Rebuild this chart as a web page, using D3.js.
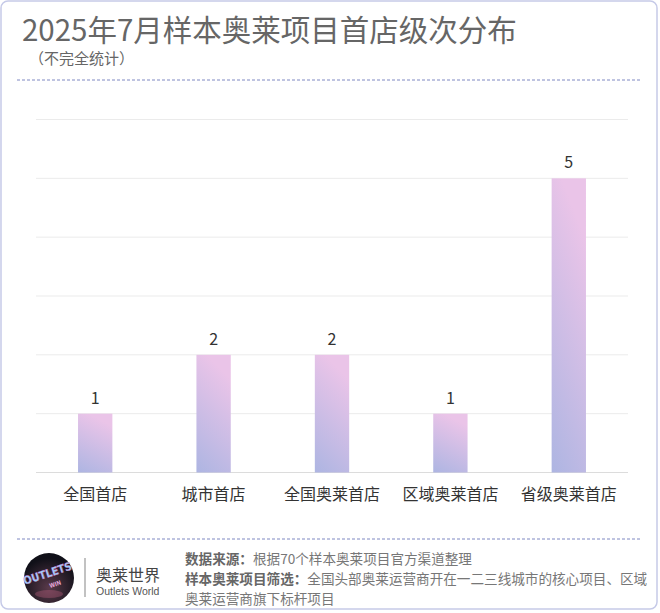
<!DOCTYPE html>
<html><head><meta charset="utf-8">
<script src="https://cdn.jsdelivr.net/npm/d3@7/dist/d3.min.js"></script>
<style>
html,body{margin:0;padding:0;background:#fff;}
svg{display:block;font-family:"Noto Sans CJK SC","Noto Sans",sans-serif;}
</style></head>
<body>
<svg id="c" width="660" height="613"></svg>
<script>
const categories = ["全国首店","城市首店","全国奥莱首店","区域奥莱首店","省级奥莱首店"];
const values = [1,2,2,1,5];
const yTicks = [0,1,2,3,4,5,6];
const titleText = "2025年7月样本奥莱项目首店级次分布";
const subtitleText = "（不完全统计）";
const sourceLabel = "数据来源：";
const sourceText = "根据70个样本奥莱项目官方渠道整理";
const filterLabel = "样本奥莱项目筛选：";
const filterLines = ["全国头部奥莱运营商开在一二三线城市的核心项目、区域","奥莱运营商旗下标杆项目"];

(function(){
const svg = d3.select("#c");
const defs = svg.append("defs");
const g1 = defs.append("linearGradient").attr("id","barGrad")
  .attr("x1","0.3").attr("y1","0").attr("x2","0").attr("y2","1");
g1.append("stop").attr("offset","0%").attr("stop-color","#eac4e8");
g1.append("stop").attr("offset","100%").attr("stop-color","#adb5e2");
const lg = defs.append("radialGradient").attr("id","logoGrad").attr("cx","0.5").attr("cy","0.7").attr("r","0.6");
lg.append("stop").attr("offset","0%").attr("stop-color","#5a3a4a");
lg.append("stop").attr("offset","100%").attr("stop-color","#101018");

// frame
svg.append("rect").attr("x",1).attr("y",1).attr("width",656).attr("height",608)
  .attr("rx",7).attr("fill","#fff").attr("stroke","#c6cae8").attr("stroke-width",1.5);

// title
svg.append("text").attr("x",22).attr("y",41).attr("font-size",29.5).attr("fill","#666")
  .text(titleText);
svg.append("text").attr("x",29).attr("y",64).attr("font-size",15).attr("fill","#666")
  .text(subtitleText);

// dashed lines
[80,539].forEach(yy=>{
  svg.append("line").attr("x1",17).attr("x2",640).attr("y1",yy).attr("y2",yy)
    .attr("stroke","#7f88c2").attr("stroke-width",1).attr("stroke-dasharray","3,2");
});

// chart
const pLeft=36, pRight=628, pTop=119.5, pBottom=472.5;
const x = d3.scaleBand().domain(categories).range([pLeft,pRight]).paddingInner(0.71).paddingOuter(0.355);
const y = d3.scaleLinear().domain([0,6]).range([pBottom,pTop]);

svg.append("g").selectAll("line").data(yTicks).join("line")
  .attr("x1",pLeft).attr("x2",pRight).attr("y1",d=>y(d)).attr("y2",d=>y(d))
  .attr("stroke",d=>d===0?"#dcdcdc":"#ebebeb").attr("stroke-width",1);

svg.append("g").selectAll("rect").data(values).join("rect")
  .attr("x",(d,i)=>x(categories[i])).attr("width",x.bandwidth())
  .attr("y",d=>y(d)).attr("height",d=>y(0)-y(d))
  .attr("fill","url(#barGrad)");

svg.append("g").selectAll("text").data(values).join("text")
  .attr("x",(d,i)=>x(categories[i])+x.bandwidth()/2).attr("y",d=>y(d)-10)
  .attr("text-anchor","middle").attr("font-size",16).attr("fill","#333")
  .text(d=>d);

const xAxis = d3.axisBottom(x).tickSize(0).tickPadding(0);
const ax = svg.append("g").attr("transform",`translate(0,${pBottom})`).call(xAxis);
ax.select(".domain").remove();
ax.selectAll("text").attr("font-size",16).attr("fill","#333")
  .attr("font-family","'Noto Sans CJK SC',sans-serif").attr("dy",0).attr("y",27);

// logo
const lgG = svg.append("g").attr("transform","translate(49,578)");
lgG.append("circle").attr("r",25).attr("fill","url(#logoGrad)");
lgG.append("text").attr("x",0).attr("y",-1).attr("text-anchor","middle")
  .attr("transform","rotate(-18)").attr("font-size",11).attr("font-weight","bold")
  .attr("font-family","'DejaVu Sans Condensed','DejaVu Sans',sans-serif")
  .attr("fill","#8fd6ff").attr("stroke","#e070c0").attr("stroke-width",0.4).text("OUTLETS");
lgG.append("text").attr("x",4).attr("y",10).attr("text-anchor","middle")
  .attr("transform","rotate(-18)").attr("font-size",6).attr("font-weight","bold")
  .attr("fill","#f0b0e0").text("WIN");
lgG.append("ellipse").attr("cx",0).attr("cy",16).attr("rx",14).attr("ry",4)
  .attr("fill","#c06080").attr("opacity",0.35);

svg.append("line").attr("x1",85).attr("x2",85).attr("y1",558).attr("y2",597)
  .attr("stroke","#999").attr("stroke-width",1.2);
svg.append("text").attr("x",96).attr("y",581).attr("font-size",16).attr("fill","#444").text("奥莱世界");
svg.append("text").attr("x",96).attr("y",595).attr("font-size",10.5).attr("fill","#555")
  .attr("font-family","'Liberation Sans Narrow','Liberation Sans',sans-serif").text("Outlets World");

// source text
const s1 = svg.append("text").attr("x",185).attr("y",564).attr("font-size",13.6).attr("fill","#777");
s1.append("tspan").attr("font-weight","bold").attr("fill","#666").text(sourceLabel);
s1.append("tspan").text(sourceText);
const s2 = svg.append("text").attr("x",185).attr("y",584).attr("font-size",13.6).attr("fill","#777");
s2.append("tspan").attr("font-weight","bold").attr("fill","#666").text(filterLabel);
s2.append("tspan").text(filterLines[0]);
svg.append("text").attr("x",185).attr("y",604).attr("font-size",13.6).attr("fill","#777").text(filterLines[1]);
})();
</script>
</body></html>
